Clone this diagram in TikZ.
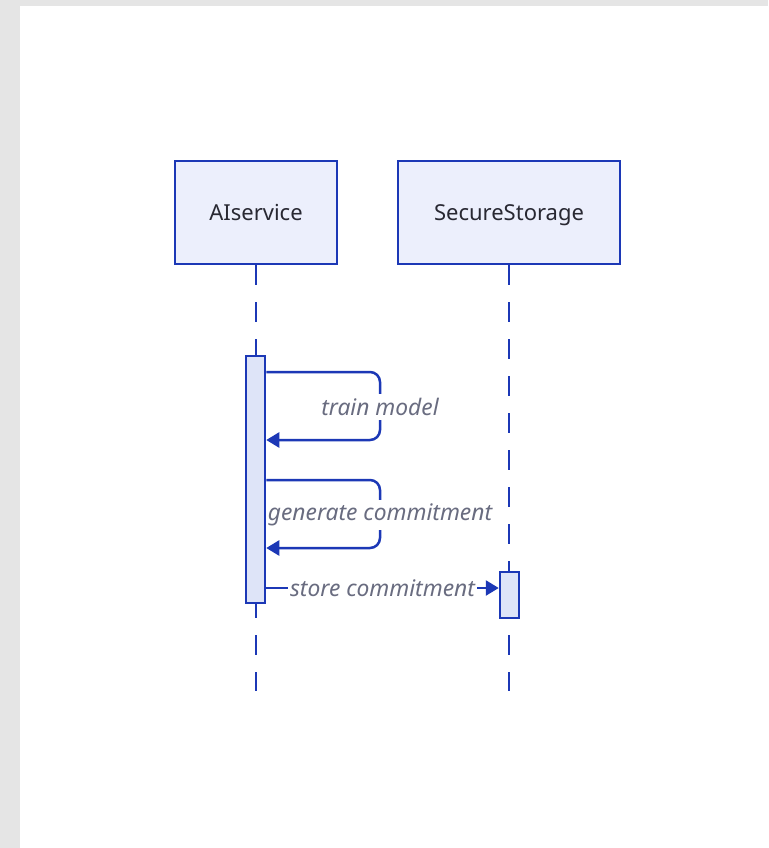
\documentclass[tikz,border=0pt]{standalone}
\usepackage{fontspec}
\setmainfont{Noto Sans}
\usetikzlibrary{arrows.meta}
\definecolor{lineblue}{RGB}{28,56,182}
\definecolor{actorfill}{RGB}{236,239,252}
\definecolor{actvfill}{RGB}{222,228,248}
\definecolor{lbl}{RGB}{105,108,128}
\definecolor{txt}{RGB}{40,40,50}
\definecolor{bgray}{RGB}{229,229,229}
\tikzset{
  actor/.style={draw=lineblue, fill=actorfill, line width=2.5pt, minimum height=103pt, inner sep=0pt,
    font=\fontsize{22}{26}\selectfont, text=txt, text height=19pt, text depth=3pt},
  lifeline/.style={draw=lineblue, line width=2.5pt, dash pattern=on 20pt off 17pt},
  actbar/.style={draw=lineblue, fill=actvfill, line width=2.5pt, minimum width=19pt, inner sep=0pt},
  msg/.style={draw=lineblue, line width=2.5pt, -{Triangle[length=13pt,width=15pt]}},
  msglabel/.style={fill=white, inner xsep=1.5pt, inner ysep=4pt, text=lbl,
    font=\fontsize{22.8}{26}\selectfont\itshape},
}
\begin{document}
\begin{tikzpicture}[x=1pt,y=-1pt]
\fill[bgray] (0,0) rectangle (768,848);
\fill[white] (20,6) rectangle (768,848);
\useasboundingbox (0,0) rectangle (768,848);

\node[actor, minimum width=162pt] (ai) at (256,212.5) {AIservice};
\node[actor, minimum width=222pt] (ss) at (509,212.5) {SecureStorage};

\coordinate (aiend) at (256,691);
\coordinate (ssend) at (509,691);
\draw[lifeline] (ai.south) -- (aiend);
\draw[lifeline] (ss.south) -- (ssend);

\node[actbar, minimum height=247pt] (aiact) at (255.5,479.5) {};
\node[actbar, minimum height=46pt] (ssact) at (509.5,595) {};

% self message 1
\coordinate (s1a) at (aiact.east |- 0,372);
\coordinate (s1b) at (380,372);
\coordinate (s1c) at (380,440);
\coordinate (s1d) at (aiact.east |- 0,440);
\draw[msg, rounded corners=10pt] (s1a) -- (s1b) -- (s1c) -- (s1d);
\node[msglabel] (l1) at (380,407) {train model};

% self message 2
\coordinate (s2a) at (aiact.east |- 0,480);
\coordinate (s2b) at (380,480);
\coordinate (s2c) at (380,548);
\coordinate (s2d) at (aiact.east |- 0,548);
\draw[msg, rounded corners=10pt] (s2a) -- (s2b) -- (s2c) -- (s2d);
\node[msglabel] (l2) at (380,515) {generate commitment};

% store commitment
\coordinate (m3a) at (aiact.east |- 0,588);
\coordinate (m3b) at (ssact.west |- 0,588);
\draw[msg] (m3a) -- (m3b);
\node[msglabel, inner xsep=2pt] (l3) at (382.5,588) {store commitment};
\end{tikzpicture}
\end{document}
